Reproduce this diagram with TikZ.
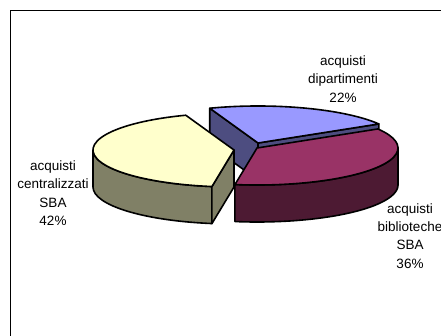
\documentclass[tikz,border=0pt]{standalone}
\usepackage{fontspec}
\setmainfont{Liberation Sans}
\usetikzlibrary{calc}

\definecolor{gialloTop}{RGB}{255,255,204}
\definecolor{gialloLato}{RGB}{128,128,102}
\definecolor{viola}{RGB}{153,51,102}
\definecolor{violaLato}{RGB}{77,26,51}
\definecolor{blu}{RGB}{153,153,255}
\definecolor{bluLato}{RGB}{77,77,128}

\begin{document}
\begin{tikzpicture}[x=1pt, y=1pt,
    fetta/.style={draw=black, line width=1.6pt, line join=round},
    etichetta/.style={align=center, font=\fontsize{13.5}{18.3}\selectfont}]

    \useasboundingbox (0,0) rectangle (441,335);
    \clip (0,0) rectangle (441,335);

    % cornice
    \draw[line width=0.9pt] (10,-10) rectangle (460,325);

    % centri delle fette
    \coordinate (cblu) at (258,192);
    \coordinate (cviola) at (257,187);
    \coordinate (cgiallo) at (234,185);

    % acquisti dipartimenti
    \draw[fetta, fill=bluLato] (cblu) -- ($(cblu)+(110:141 and 37)$) -- ++(0,-37) -- ($(cblu)+(0,-37)$) -- cycle;
    \draw[fetta, fill=bluLato] (cblu) -- ($(cblu)+(31:141 and 37)$) -- ++(0,-37) -- ($(cblu)+(0,-37)$) -- cycle;
    \draw[fetta, fill=blu] (cblu) -- ($(cblu)+(31:141 and 37)$)
        arc[start angle=31, end angle=110, x radius=141, y radius=37] -- cycle;

    % acquisti biblioteche
    \draw[fetta, fill=violaLato] ($(cviola)+(261:141 and 37)$)
        arc[start angle=261, end angle=360, x radius=141, y radius=37] -- ++(0,-37)
        arc[start angle=360, end angle=261, x radius=141, y radius=37] -- cycle;
    \draw[fetta, fill=viola] (cviola) -- ($(cviola)+(261:141 and 37)$)
        arc[start angle=261, end angle=391, x radius=141, y radius=37] -- cycle;

    % acquisti centralizzati
    \draw[fetta, fill=gialloLato] ($(cgiallo)+(180:141 and 37)$)
        arc[start angle=180, end angle=261, x radius=141, y radius=37] -- ++(0,-37)
        arc[start angle=261, end angle=180, x radius=141, y radius=37] -- cycle;
    \draw[fetta, fill=gialloLato] (cgiallo) -- ($(cgiallo)+(261:141 and 37)$) -- ++(0,-37) -- ($(cgiallo)+(0,-37)$) -- cycle;
    \draw[fetta, fill=gialloTop] (cgiallo) -- ($(cgiallo)+(110:141 and 37)$)
        arc[start angle=110, end angle=261, x radius=141, y radius=37] -- cycle;

    % etichette
    \node[etichetta] (lblu) at (343,256) {acquisti\\dipartimenti\\22\%};
    \node[etichetta] (lgiallo) at (53,142) {acquisti\\centralizzati\\SBA\\42\%};
    \node[etichetta] (lviola) at (410,99) {acquisti\\biblioteche\\SBA\\36\%};

\end{tikzpicture}
\end{document}
